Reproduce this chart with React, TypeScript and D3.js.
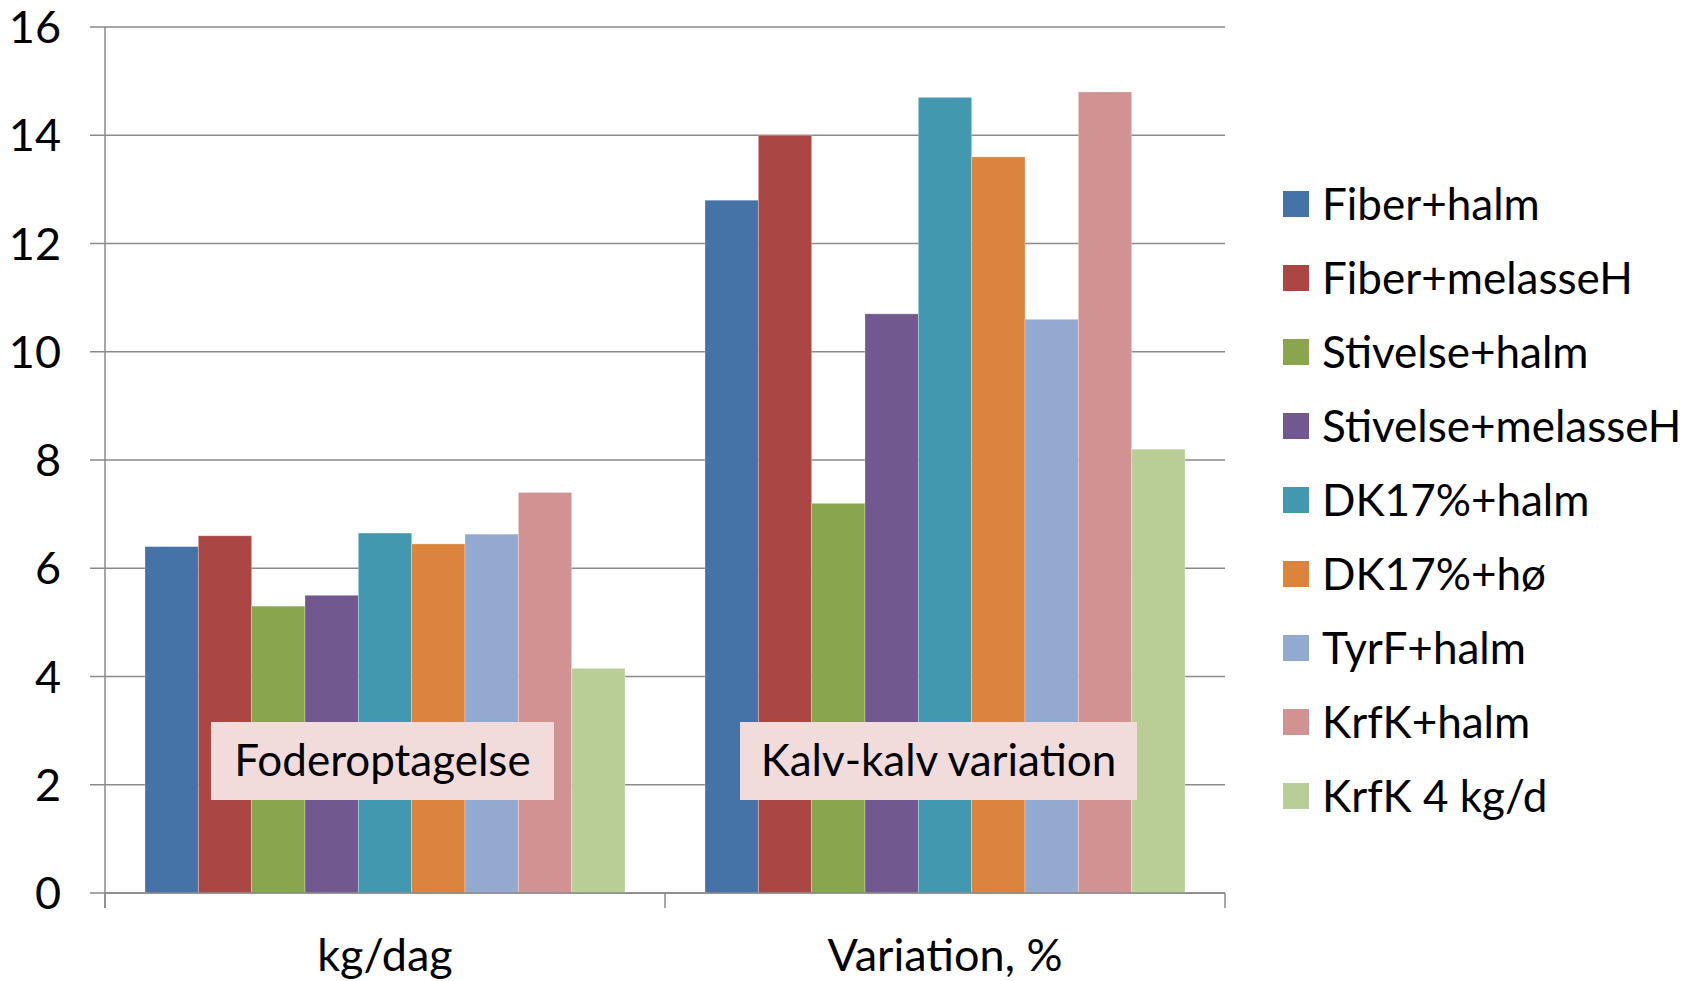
import React from "react";
import * as d3 from "d3";

const categories = ["kg/dag", "Variation, %"];
const seriesNames = [
  "Fiber+halm",
  "Fiber+melasseH",
  "Stivelse+halm",
  "Stivelse+melasseH",
  "DK17%+halm",
  "DK17%+hø",
  "TyrF+halm",
  "KrfK+halm",
  "KrfK 4 kg/d",
];
const colors = ["#4572A7", "#AA4643", "#89A54E", "#71588F", "#4198AF", "#DB843D", "#93A9CF", "#D19392", "#B9CD96"];
const kgDag = [6.4, 6.6, 5.3, 5.5, 6.65, 6.45, 6.63, 7.4, 4.15];
const variation = [12.8, 14.0, 7.2, 10.7, 14.7, 13.6, 10.6, 14.8, 8.2];
const yTicks = [0, 2, 4, 6, 8, 10, 12, 14, 16];
const boxLabels = ["Foderoptagelse", "Kalv-kalv variation"];

const FONT = "Lato, Carlito, 'Open Sans', sans-serif";

export default function App() {
  const W = 1696, H = 981;
  const left = 105, right = 1225, top = 27, bottom = 893;
  const x0 = d3.scaleBand<string>().domain(categories).range([left, right]).paddingInner(0).paddingOuter(0);
  const x1 = d3.scaleBand<string>().domain(seriesNames).range([0, x0.bandwidth()]).paddingInner(0).paddingOuter(0.75);
  const y = d3.scaleLinear().domain([0, 16]).range([bottom, top]);
  const data = [kgDag, variation];
  const gridColor = "#8a8a8a";

  const boxes = [
    { x: 211, w: 343 },
    { x: 740, w: 397 },
  ];

  return (
    <svg width={W} height={H} style={{ position: "absolute", left: 0, top: 0, background: "#fff" }} fontFamily={FONT}>
      {yTicks.map((t) => (
        <line key={"g" + t} x1={left - 15} x2={right} y1={y(t)} y2={y(t)} stroke={gridColor} strokeWidth={1.5} />
      ))}
      <line x1={left} x2={left} y1={top} y2={bottom + 15} stroke={gridColor} strokeWidth={1.5} />
      {yTicks.map((t) => (
        <text key={"t" + t} x={61} y={y(t)} dy="0.36em" textAnchor="end" fontSize={45} fill="#000">
          {t}
        </text>
      ))}
      {categories.map((c, ci) => (
        <g key={c} transform={`translate(${x0(c)},0)`}>
          {seriesNames.map((s, si) => (
            <rect
              key={s}
              x={x1(s)}
              width={x1.bandwidth()}
              y={y(data[ci][si])}
              height={y(0) - y(data[ci][si])}
              fill={colors[si]}
              stroke="#ffffff"
              strokeOpacity={0.35}
              strokeWidth={0.8}
            />
          ))}
        </g>
      ))}
      <line x1={left} x2={right} y1={bottom} y2={bottom} stroke={gridColor} strokeWidth={1.5} />
      {[left, (x0(categories[1]) as number), right].map((xx, i) => (
        <line key={"xt" + i} x1={xx} x2={xx} y1={bottom} y2={bottom + 15} stroke={gridColor} strokeWidth={1.5} />
      ))}
      {categories.map((c) => (
        <text key={"c" + c} x={(x0(c) as number) + x0.bandwidth() / 2} y={971} textAnchor="middle" fontSize={45} fill="#000">
          {c}
        </text>
      ))}
      {boxLabels.map((l, i) => (
        <g key={l}>
          <rect x={boxes[i].x} y={722} width={boxes[i].w} height={78} fill="#F2DCDB" />
          <text x={boxes[i].x + boxes[i].w / 2} y={776} textAnchor="middle" fontSize={44} fill="#000">
            {l}
          </text>
        </g>
      ))}
      {seriesNames.map((s, i) => {
        const cy = 204 + i * 74;
        return (
          <g key={"l" + s}>
            <rect x={1283} y={cy - 13} width={26} height={26} fill={colors[i]} />
            <text x={1322} y={cy} dy="0.36em" fontSize={44} fill="#000">
              {s}
            </text>
          </g>
        );
      })}
    </svg>
  );
}
